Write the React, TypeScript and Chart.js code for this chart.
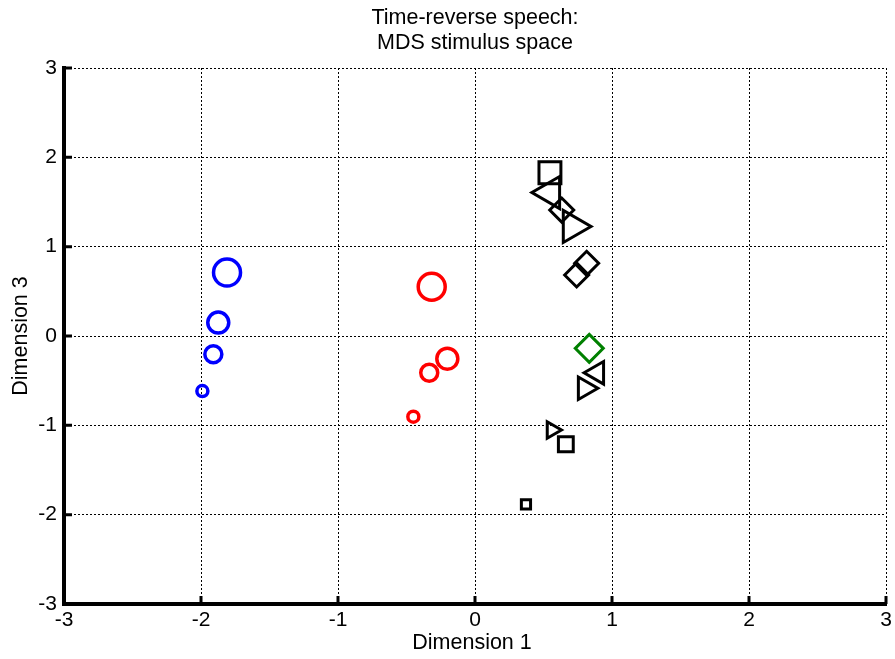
import { useEffect, useRef } from 'react';
import { Chart, registerables } from 'chart.js';

Chart.register(...registerables);

const FONT = '"Liberation Sans", Arial, Helvetica, sans-serif';

const titleLines = ['Time-reverse speech:', 'MDS stimulus space'];
const xLabel = 'Dimension 1';
const yLabel = 'Dimension 3';

const axisMin = -3;
const axisMax = 3;
const tickValues = [-3, -2, -1, 0, 1, 2, 3];

// Blue circles
const blueX = [-1.81, -1.874, -1.91, -1.99];
const blueY = [0.71, 0.15, -0.205, -0.616];
const blueSize = [13.5, 10.5, 8.5, 5.5];

// Red circles
const redX = [-0.316, -0.202, -0.334, -0.45];
const redY = [0.552, -0.254, -0.411, -0.903];
const redSize = [13.5, 10.5, 8.5, 5.5];

// Black squares
const squareX = [0.547, 0.663, 0.372];
const squareY = [1.828, -1.212, -1.884];
const squareSize = [15.5, 10.5, 6.5];

// Black left-pointing triangles
const leftTriX = [0.55, 0.891];
const leftTriY = [1.606, -0.412];
const leftTriSize = [18.5, 13];

// Black right-pointing triangles
const rightTriX = [0.712, 0.802, 0.562];
const rightTriY = [1.226, -0.585, -1.052];
const rightTriSize = [18.5, 13, 9.5];

// Black diamonds
const diamondX = [0.633, 0.742, 0.815];
const diamondY = [1.41, 0.683, 0.814];
const diamondSize = [12, 12, 12];

// Green diamond
const greenX = [0.834];
const greenY = [-0.138];
const greenSize = [14];

const pts = (xs: number[], ys: number[]) => xs.map((x, i) => ({ x, y: ys[i] }));

const textPlugin = {
  id: 'figureText',
  afterDraw(chart: any) {
    const { ctx, chartArea } = chart;
    const cx = (chartArea.left + chartArea.right) / 2;
    const cy = (chartArea.top + chartArea.bottom) / 2;
    ctx.save();
    ctx.fillStyle = '#000';
    ctx.font = `21.5px ${FONT}`;
    ctx.textAlign = 'center';
    ctx.textBaseline = 'middle';
    ctx.fillText(titleLines[0], cx, 18);
    ctx.fillText(titleLines[1], cx, 43);
    ctx.fillText(xLabel, cx - 3, 643);
    ctx.translate(21, cy);
    ctx.rotate(-Math.PI / 2);
    ctx.fillText(yLabel, 0, 0);
    ctx.restore();

    // inward tick marks on the left and bottom axes
    const xs = chart.scales.x;
    const ys = chart.scales.y;
    ctx.save();
    ctx.strokeStyle = '#000';
    ctx.lineWidth = 3;
    ctx.beginPath();
    tickValues.forEach((v) => {
      const px = xs.getPixelForValue(v);
      ctx.moveTo(px, chartArea.bottom);
      ctx.lineTo(px, chartArea.bottom - 8);
      const py = ys.getPixelForValue(v);
      ctx.moveTo(chartArea.left, py);
      ctx.lineTo(chartArea.left + 8, py);
    });
    ctx.stroke();
    ctx.restore();
  },
};

export default function App() {
  const ref = useRef<HTMLCanvasElement | null>(null);

  useEffect(() => {
    document.body.style.margin = '0';
    const canvas = ref.current;
    if (!canvas) return;
    const common = { showLine: false, clip: false as any };
    const chart = new Chart(canvas, {
      type: 'scatter',
      data: {
        datasets: [
          {
            ...common,
            data: pts(blueX, blueY),
            pointStyle: 'circle',
            pointRadius: blueSize,
            borderColor: '#0000ff',
            backgroundColor: 'rgba(0,0,0,0)',
            borderWidth: 3.5,
          },
          {
            ...common,
            data: pts(redX, redY),
            pointStyle: 'circle',
            pointRadius: redSize,
            borderColor: '#ff0000',
            backgroundColor: 'rgba(0,0,0,0)',
            borderWidth: 3.5,
          },
          {
            ...common,
            data: pts(squareX, squareY),
            pointStyle: 'rect',
            pointRadius: squareSize,
            borderColor: '#000',
            backgroundColor: 'rgba(0,0,0,0)',
            borderWidth: 3,
          },
          {
            ...common,
            data: pts(leftTriX, leftTriY),
            pointStyle: 'triangle',
            rotation: -90,
            pointRadius: leftTriSize,
            borderColor: '#000',
            backgroundColor: 'rgba(0,0,0,0)',
            borderWidth: 3,
          },
          {
            ...common,
            data: pts(rightTriX, rightTriY),
            pointStyle: 'triangle',
            rotation: 90,
            pointRadius: rightTriSize,
            borderColor: '#000',
            backgroundColor: 'rgba(0,0,0,0)',
            borderWidth: 3,
          },
          {
            ...common,
            data: pts(diamondX, diamondY),
            pointStyle: 'rectRot',
            pointRadius: diamondSize,
            borderColor: '#000',
            backgroundColor: 'rgba(0,0,0,0)',
            borderWidth: 3,
          },
          {
            ...common,
            data: pts(greenX, greenY),
            pointStyle: 'rectRot',
            pointRadius: greenSize,
            borderColor: '#008000',
            backgroundColor: 'rgba(0,0,0,0)',
            borderWidth: 3,
          },
        ],
      },
      options: {
        responsive: false,
        animation: false,
        events: [],
        layout: { autoPadding: false, padding: { top: 68, right: 9, left: 0, bottom: 0 } },
        plugins: {
          legend: { display: false },
          tooltip: { enabled: false },
          title: { display: false },
        },
        scales: {
          x: {
            type: 'linear',
            min: axisMin,
            max: axisMax,
            afterFit: (s: any) => {
              s.height = 55;
              s.paddingLeft = 0;
              s.paddingRight = 0;
            },
            afterBuildTicks: (s: any) => {
              s.ticks = tickValues.map((v) => ({ value: v }));
            },
            ticks: {
              color: '#000',
              font: { family: FONT, size: 21 },
              padding: 4,
              maxRotation: 0,
              callback: (v: any) => String(v),
            },
            grid: {
              color: '#000',
              lineWidth: 1,
              drawTicks: false,
            },
            border: { display: true, color: '#000', width: 4, dash: [2, 2] },
          },
          y: {
            type: 'linear',
            min: axisMin,
            max: axisMax,
            afterFit: (s: any) => {
              s.width = 64;
              s.paddingTop = 0;
              s.paddingBottom = 0;
            },
            afterBuildTicks: (s: any) => {
              s.ticks = tickValues.map((v) => ({ value: v }));
            },
            ticks: {
              color: '#000',
              font: { family: FONT, size: 21 },
              padding: 7,
              callback: (v: any) => String(v),
            },
            grid: {
              color: '#000',
              lineWidth: 1,
              drawTicks: false,
            },
            border: { display: true, color: '#000', width: 4, dash: [2, 2] },
          },
        },
      },
      plugins: [textPlugin],
    });
    return () => chart.destroy();
  }, []);

  return (
    <div style={{ position: 'fixed', left: 0, top: 0, width: 895, height: 659, background: '#fff' }}>
      <canvas ref={ref} width={895} height={659} style={{ width: 895, height: 659 }} />
    </div>
  );
}
